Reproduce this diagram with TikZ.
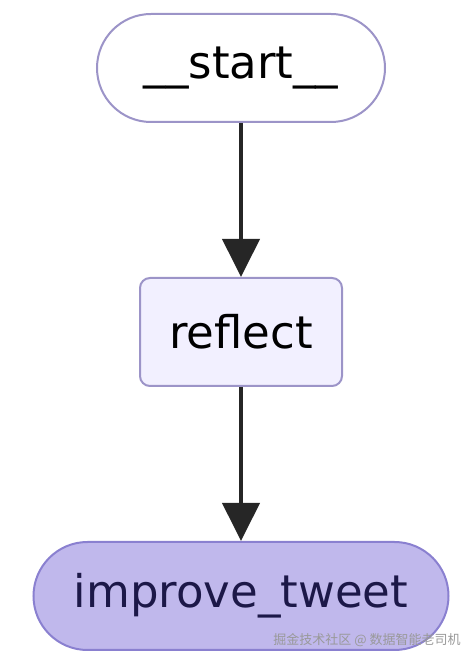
\documentclass[tikz,border=0pt]{standalone}
\usepackage{fontspec}
\setmainfont{DejaVu Sans}
\newfontfamily\cjk{Noto Sans CJK SC}
\usepackage{xcolor}
\usepackage{tikz}
\usetikzlibrary{arrows.meta,positioning}
\definecolor{edgepurple}{HTML}{9C94C8}
\definecolor{nodefill}{HTML}{F2F0FF}
\definecolor{lastfill}{HTML}{C0B8EC}
\definecolor{lastedge}{HTML}{8A80D0}
\definecolor{lastink}{HTML}{1C1848}

\begin{document}
\begin{tikzpicture}[x=1pt, y=1pt, font=\fontsize{45}{50}\selectfont, node distance=154pt,
  box/.style={draw=edgepurple, line width=2pt, align=center, minimum height=108pt, inner sep=0pt},
  pill/.style={box, rounded corners=54pt},
  arr/.style={-{Triangle[width=37pt, length=38pt]}, line width=4pt, draw=black!85}]
\useasboundingbox (0,0) rectangle (475,662);
\node[pill, fill=white, minimum width=288pt] (start) at (241,594) {\_\_start\_\_};
\node[box, fill=nodefill, rounded corners=10pt, minimum width=202pt, below=of start] (reflect) {reflect};
\node[pill, fill=lastfill, draw=lastedge, text=lastink, minimum width=415pt, below=of reflect] (improve) {improve\_tweet};
\draw[arr] (start)--(reflect); \draw[arr] (reflect)--(improve);
\node[font=\cjk\fontsize{13}{15}\selectfont, text=black!40] (mark) at (367,22) {掘金技术社区 @ 数据智能老司机};
\end{tikzpicture}
\end{document}
